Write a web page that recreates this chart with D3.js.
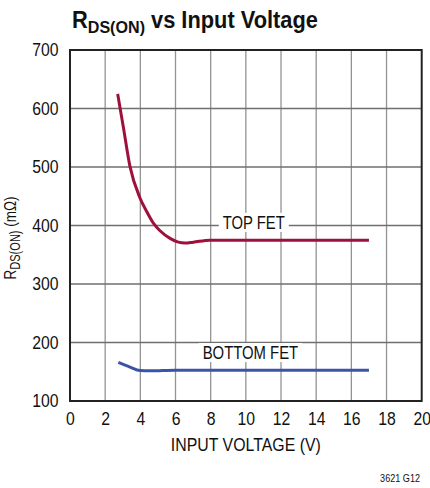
<!DOCTYPE html>
<html>
<head>
<meta charset="utf-8">
<script src="https://cdn.jsdelivr.net/npm/d3@7"></script>
<style>
  body { margin: 0; background: #fff; }
  text { font-family: "Liberation Sans", Arial, sans-serif; fill: #111; }
</style>
</head>
<body>
<div id="chart"></div>
<script>
// data
var xTicks = [0, 2, 4, 6, 8, 10, 12, 14, 16, 18, 20];
var yTicks = [100, 200, 300, 400, 500, 600, 700];

var topVin = [2.71, 3.03, 3.41, 3.98, 4.36, 4.74, 5.12, 5.69, 6.16, 6.54, 7.01, 7.96, 9, 12, 17];
var topRds = [625, 569, 501, 447, 424, 404, 391, 378, 371.5, 370, 371.5, 375, 375, 375, 375];

var bottomVin = [2.75, 3.41, 3.98, 4.55, 6, 7.96, 12, 17];
var bottomRds = [166, 158, 152, 151.5, 152.5, 152.5, 152.5, 152.5];

var svgWidth = 430;
var svgHeight = 488;

var margin = { top: 50, right: 8.3, bottom: 87, left: 70 };
var width = svgWidth - margin.left - margin.right;
var height = svgHeight - margin.top - margin.bottom;

var svg = d3.select("#chart")
  .append("svg")
  .attr("width", svgWidth)
  .attr("height", svgHeight);

var chartGroup = svg.append("g")
  .attr("transform", `translate(${margin.left}, ${margin.top})`);

var x = d3.scaleLinear().domain([0, 20]).range([0, width]);
var y = d3.scaleLinear().domain([100, 700]).range([height, 0]);

// squeeze a text horizontally so it looks like the condensed face
function fitWidth(sel, targetW, ax, ay, extra) {
  var w = sel.node().getBBox().width;
  var s = targetW / w;
  sel.attr("transform", `translate(${ax}, ${ay}) ${extra || ""} scale(${s}, 1)`);
}

// grid
chartGroup.append("g")
  .selectAll("line")
  .data(xTicks.slice(1, -1))
  .enter()
  .append("line")
  .attr("x1", d => x(d))
  .attr("x2", d => x(d))
  .attr("y1", 0)
  .attr("y2", height)
  .attr("stroke", "#939393")
  .attr("stroke-width", 1.3);

chartGroup.append("g")
  .selectAll("line")
  .data(yTicks.slice(1, -1))
  .enter()
  .append("line")
  .attr("x1", 0)
  .attr("x2", width)
  .attr("y1", d => y(d))
  .attr("y2", d => y(d))
  .attr("stroke", "#6f6f6f")
  .attr("stroke-width", 1.3);

// curve labels with white boxes over the grid
function curveLabel(txt, cx, gridVal, baseOff, targetW) {
  var box = chartGroup.append("rect").attr("fill", "#fff");
  var t = chartGroup.append("text")
    .attr("text-anchor", "middle")
    .style("font-size", "18px")
    .text(txt);
  fitWidth(t, targetW, x(cx), y(gridVal) + baseOff);
  box.attr("x", x(cx) - targetW / 2 - 4)
    .attr("y", y(gridVal) + baseOff - 16)
    .attr("width", targetW + 8)
    .attr("height", 19);
}
curveLabel("TOP FET", 10.45, 400, 3.4, 62);
curveLabel("BOTTOM FET", 10.26, 200, 16.6, 95.6);

// curves
var line = d3.line()
  .x(d => x(d[0]))
  .y(d => y(d[1]))
  .curve(d3.curveMonotoneX);

chartGroup.append("path")
  .datum(d3.zip(topVin, topRds))
  .attr("d", line)
  .attr("fill", "none")
  .attr("stroke", "#a0103c")
  .attr("stroke-width", 3);

chartGroup.append("path")
  .datum(d3.zip(bottomVin, bottomRds))
  .attr("d", line)
  .attr("fill", "none")
  .attr("stroke", "#3a55a8")
  .attr("stroke-width", 3);

// frame
chartGroup.append("rect")
  .attr("width", width)
  .attr("height", height)
  .attr("fill", "none")
  .attr("stroke", "#222")
  .attr("stroke-width", 2);

// axes (labels only)
var sq = 0.9;
var bottomAxis = d3.axisBottom(x).tickValues(xTicks).tickSize(0).tickPadding(12);
var leftAxis = d3.axisLeft(y).tickValues(yTicks).tickSize(0).tickPadding(11);

var xAxis = chartGroup.append("g")
  .attr("transform", `translate(0, ${height})`)
  .call(bottomAxis);
var yAxis = chartGroup.append("g").call(leftAxis);

[xAxis, yAxis].forEach(function(a) {
  a.select(".domain").remove();
  a.selectAll("text")
    .style("font-size", "17.5px")
    .style("font-family", "\"Liberation Sans\", Arial, sans-serif")
    .attr("fill", "#111")
    .attr("transform", `scale(${sq}, 1)`);
});
yAxis.selectAll("text").attr("x", -11.5 / sq);

// axis titles
var xTitle = chartGroup.append("text")
  .attr("text-anchor", "middle")
  .style("font-size", "18px")
  .text("INPUT VOLTAGE (V)");
fitWidth(xTitle, 150, width / 2, height + 50);

var yLabel = svg.append("text")
  .attr("text-anchor", "middle")
  .style("font-size", "17px");
yLabel.append("tspan").text("R");
yLabel.append("tspan").attr("dy", 4).style("font-size", "14px").text("DS(ON)");
yLabel.append("tspan").attr("dy", -4).text(" (mΩ)");
fitWidth(yLabel, 83, 16, 238, "rotate(-90)");

// title
var title = svg.append("text")
  .attr("x", 0)
  .attr("y", 0)
  .style("font-size", "23px")
  .style("font-weight", "bold");
title.append("tspan").text("R");
title.append("tspan").attr("dy", 5).style("font-size", "17px").text("DS(ON)");
title.append("tspan").attr("dy", -5).text(" vs Input Voltage");
fitWidth(title, 246, 72, 28.3);

// figure id
var figId = svg.append("text")
  .attr("text-anchor", "end")
  .style("font-size", "11px")
  .text("3621 G12");
fitWidth(figId, 40, 420, 482);
</script>
</body>
</html>
